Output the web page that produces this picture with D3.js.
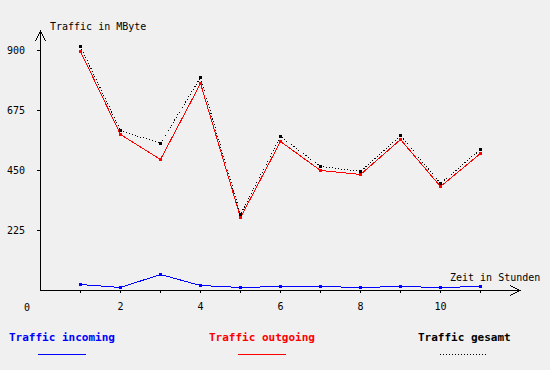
<!DOCTYPE html>
<html>
<head>
<meta charset="utf-8">
<script src="https://cdn.jsdelivr.net/npm/d3@7"></script>
<style>
  body { margin: 0; background: #f0f0f0; }
  svg { display: block; }
  text { font-family: "DejaVu Sans Mono", "Liberation Mono", monospace; }
</style>
</head>
<body>
<svg id="chart"></svg>
<script>
// Stunden 1..11
var hours = [1, 2, 3, 4, 5, 6, 7, 8, 9, 10, 11];
var incoming = [21, 10, 59, 19, 11, 15, 15, 11, 15, 11, 16];
var outgoing = [895, 585, 491, 776, 272, 559, 449, 435, 565, 390, 512];
var gesamt = [916, 600, 550, 797, 284, 576, 464, 446, 582, 401, 528];
var yTicks = [225, 450, 675, 900];
var xTickLabels = [0, 2, 4, 6, 8, 10];

var width = 550, height = 370;

var svg = d3.select('#chart')
    .attr('width', width)
    .attr('height', height);

svg.append('rect')
    .attr('width', width)
    .attr('height', height)
    .attr('fill', '#f0f0f0');

var x = d3.scaleLinear().domain([0, 12]).range([40, 520]);
var y = d3.scaleLinear().domain([0, 225]).range([290, 230]);

// achsen
var xAxis = d3.axisBottom(x)
    .tickValues(hours)
    .tickSize(3)
    .tickPadding(10)
    .tickFormat(function(d) { return d % 2 === 0 ? d : ''; });

var gx = svg.append('g')
    .attr('transform', 'translate(0,290)')
    .call(xAxis);
gx.select('.domain').remove();
gx.selectAll('line').attr('stroke', '#000').attr('shape-rendering', 'crispEdges');
gx.selectAll('text').attr('font-size', 10).attr('font-family', '"DejaVu Sans Mono", monospace').attr('fill', '#000');

svg.append('text')
    .attr('x', x(0) - 13)
    .attr('y', 311)
    .attr('text-anchor', 'middle')
    .attr('font-size', 10)
    .text(xTickLabels[0]);

var yAxis = d3.axisLeft(y)
    .tickValues(yTicks)
    .tickSize(3)
    .tickPadding(12);

var gy = svg.append('g')
    .attr('transform', 'translate(40,0)')
    .call(yAxis);
gy.select('.domain').remove();
gy.selectAll('line').attr('stroke', '#000').attr('shape-rendering', 'crispEdges');
gy.selectAll('text').attr('font-size', 10).attr('font-family', '"DejaVu Sans Mono", monospace').attr('fill', '#000');

// achsenlinien mit pfeilen
svg.append('path')
    .attr('d', 'M40.5,290.5V31M35.5,41L40.5,31L45.5,41')
    .attr('fill', 'none')
    .attr('stroke', '#000')
    .attr('shape-rendering', 'crispEdges');
svg.append('path')
    .attr('d', 'M40,290.5H520M510,285.5L520,290.5L510,295.5')
    .attr('fill', 'none')
    .attr('stroke', '#000')
    .attr('shape-rendering', 'crispEdges');

svg.append('text')
    .attr('x', 50)
    .attr('y', 30)
    .attr('font-size', 10)
    .text('Traffic in MByte');

svg.append('text')
    .attr('x', 450)
    .attr('y', 281)
    .attr('font-size', 10)
    .text('Zeit in Stunden');

var series = [
    { name: 'Traffic incoming', values: incoming, color: '#0000ff', dash: null, lx: 9, l1: 38, l2: 86 },
    { name: 'Traffic outgoing', values: outgoing, color: '#ff0000', dash: null, lx: 209, l1: 238, l2: 286 },
    { name: 'Traffic gesamt', values: gesamt, color: '#000000', dash: '1,2', lx: 418, l1: 440, l2: 487 }
];

var line = d3.line()
    .x(function(d, i) { return x(hours[i]) + 0.5; })
    .y(function(d) { return Math.round(y(d)) + 0.5; });

series.forEach(function(s) {
    svg.append('path')
        .datum(s.values)
        .attr('d', line)
        .attr('fill', 'none')
        .attr('stroke', s.color)
        .attr('stroke-width', 1)
        .attr('shape-rendering', 'crispEdges')
        .attr('stroke-dasharray', s.dash);

    svg.selectAll(null)
        .data(s.values)
        .enter().append('rect')
        .attr('x', function(d, i) { return Math.round(x(hours[i])) - 1; })
        .attr('y', function(d) { return Math.round(y(d)) - 1; })
        .attr('width', 3)
        .attr('height', 3)
        .attr('fill', s.color);

    // legende
    svg.append('text')
        .attr('x', s.lx)
        .attr('y', 341)
        .attr('font-size', 11)
        .attr('font-weight', 'bold')
        .attr('fill', s.color)
        .text(s.name);

    svg.append('line')
        .attr('x1', s.l1)
        .attr('x2', s.l2)
        .attr('y1', 354.5)
        .attr('y2', 354.5)
        .attr('stroke', s.color)
        .attr('stroke-dasharray', s.dash);
});
</script>
</body>
</html>
